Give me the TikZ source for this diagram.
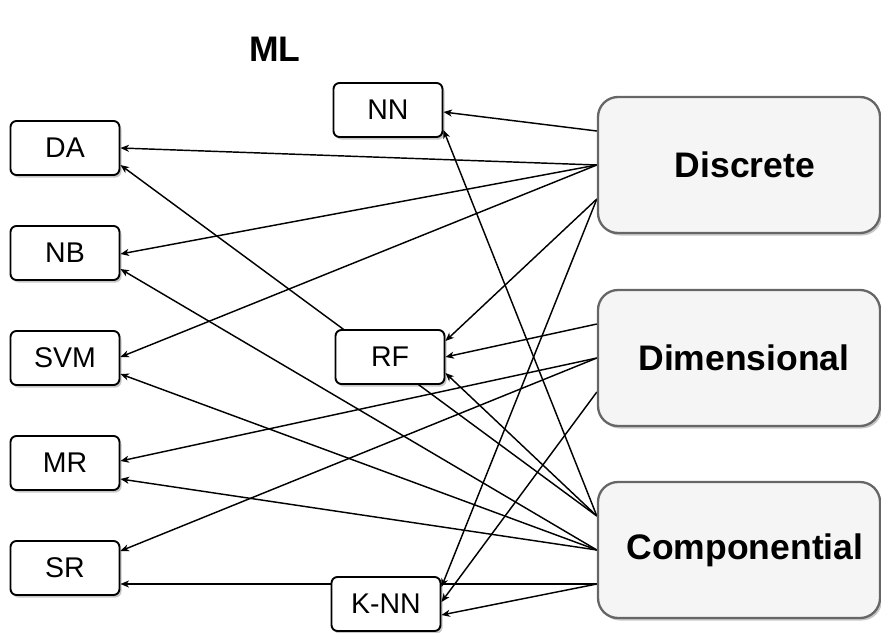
\documentclass[tikz,border=0pt]{standalone}
\usepackage{fontspec}
\setmainfont{Liberation Sans}
\usetikzlibrary{arrows.meta,calc,shadows,backgrounds}

\definecolor{bigfill}{HTML}{F5F5F5}
\definecolor{bigline}{HTML}{666666}

\tikzset{
  shade/.style={drop shadow={shadow xshift=2pt,shadow yshift=-2.5pt,fill=black,opacity=0.22}},
  method/.style={draw=black, line width=1.9pt, rounded corners=6pt, fill=white,
    minimum width=109pt, minimum height=54pt, inner sep=0pt,
    font=\fontsize{28.5}{33}\selectfont, shade},
  family/.style={draw=bigline, line width=2.3pt, rounded corners=20pt, fill=bigfill,
    minimum width=282pt, minimum height=136pt, inner sep=0pt,
    font=\fontsize{35.5}{42}\selectfont\bfseries, shade},
  link/.style={line width=1.45pt, -{Stealth[length=8.5pt,width=7pt,inset=2.5pt]}}
}

\begin{document}
\begin{tikzpicture}[x=1pt,y=-1pt]
  \useasboundingbox (0,0) rectangle (881,632);

  % title
  \node[font=\fontsize{35.5}{42}\selectfont\bfseries] (title) at (275,49) {ML};

  % method boxes, left column
  \node[method] (DA)  at (65,148) {DA};
  \node[method] (NB)  at (65,253) {NB};
  \node[method] (SVM) at (65,358) {SVM};
  \node[method] (MR)  at (65,463) {MR};
  \node[method] (SR)  at (65,568) {SR};

  % method boxes, middle column
  \node[method] (NN)  at (388,110) {NN};
  \node[method] (RF)  at (390,357) {RF};
  \node[method] (KNN) at (386,604) {K-NN};

  % model families
  \node[family] (disc) at (739,165) {\hspace*{12pt}Discrete};
  \node[family] (dim)  at (739,358) {\hspace*{10pt}Dimensional};
  \node[family] (comp) at (739,550) {\hspace*{12pt}Componential};

  \begin{scope}[on background layer]
    % Discrete
    \draw[link] ($(disc.west)+(0,-34)$) -- ($(NN.east)+(0,2)$);
    \draw[link] (disc.west) -- (DA.east);
    \draw[link] (disc.west) -- ($(NB.east)+(0,1)$);
    \draw[link] (disc.west) -- ($(SVM.east)+(0,-1)$);
    \draw[link] ($(disc.west)+(0,34)$) -- ($(RF.east)+(0,-16)$);
    \draw[link] ($(disc.west)+(0,34)$) -- ($(KNN.east)+(0,-17)$);
    % Dimensional
    \draw[link] ($(dim.west)+(0,-34)$) -- (RF.east);
    \draw[link] (dim.west) -- ($(MR.east)+(0,-2)$);
    \draw[link] (dim.west) -- ($(SR.east)+(0,-17)$);
    \draw[link] ($(dim.west)+(0,34)$) -- ($(KNN.east)+(0,-2)$);
    % Componential
    \draw[link] ($(comp.west)+(0,-34)$) -- ($(DA.east)+(0,17)$);
    \draw[link] ($(comp.west)+(0,-34)$) -- ($(NN.east)+(0,20)$);
    \draw[link] ($(comp.west)+(0,-34)$) -- ($(RF.east)+(0,16)$);
    \draw[link] (comp.west) -- ($(NB.east)+(0,16)$);
    \draw[link] (comp.west) -- ($(SVM.east)+(0,16)$);
    \draw[link] (comp.west) -- ($(MR.east)+(0,16)$);
    \draw[link] ($(comp.west)+(0,34)$) -- ($(SR.east)+(0,16)$);
    \draw[link] ($(comp.west)+(0,34)$) -- ($(KNN.east)+(0,11)$);
  \end{scope}
\end{tikzpicture}
\end{document}
